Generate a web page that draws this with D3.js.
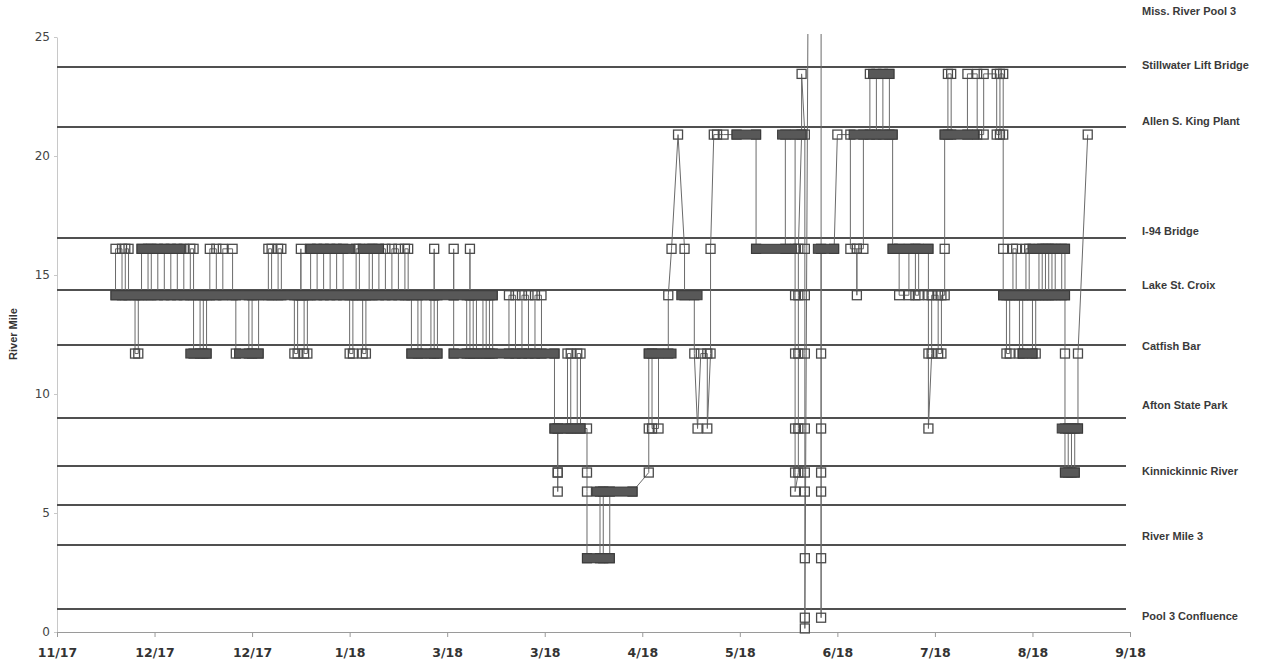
<!DOCTYPE html>
<html><head><meta charset="utf-8">
<script src="https://cdn.jsdelivr.net/npm/d3@7"></script>
<style>body{margin:0;background:#fff}svg{display:block}</style>
</head><body><svg id="c" width="1276" height="662"></svg>
<script>
// ---------- DATA ----------
const axisStart = "2017-11-01";
const axisEnd = "2018-09-27";
const tickDates = ["2017-11-01","2017-12-01","2017-12-31","2018-01-30","2018-03-01","2018-03-31",
  "2018-04-30","2018-05-30","2018-06-29","2018-07-29","2018-08-28","2018-09-27"];
const yTicks = [0,5,10,15,20,25];

// reference lines (river mile of each landmark)
const landmarkLineMiles = [23.74, 21.22, 16.55, 14.37, 12.06, 8.99, 6.97, 5.34, 3.66, 0.97];
// landmark labels and the river mile they are written at
const landmarkNames = ["Miss. River Pool 3","Stillwater Lift Bridge","Allen S. King Plant","I-94 Bridge",
  "Lake St. Croix","Catfish Bar","Afton State Park","Kinnickinnic River","River Mile 3","Pool 3 Confluence"];
const landmarkLabelMiles = [26.05, 23.78, 21.43, 16.81, 14.54, 11.97, 9.50, 6.72, 3.99, 0.63];

// detections: [date, river mile]  (27 = Miss. River Pool 3, above the plotted range)
const detections = [
["2017-11-19",14.15],["2017-11-19",16.1],["2017-11-21",16.1],["2017-11-21",14.15],["2017-11-22",14.15],["2017-11-22",16.1],
["2017-11-23",16.1],["2017-11-23",14.15],["2017-11-25",14.15],["2017-11-25",11.7],["2017-11-26",11.7],["2017-11-26",14.15],
["2017-11-27",14.15],["2017-11-27",16.1],["2017-11-29",16.1],["2017-11-29",14.15],["2017-11-30",14.15],["2017-11-30",16.1],
["2017-12-02",16.1],["2017-12-02",14.15],["2017-12-04",14.15],["2017-12-04",16.1],["2017-12-06",16.1],["2017-12-06",14.15],
["2017-12-08",14.15],["2017-12-08",16.1],["2017-12-10",16.1],["2017-12-10",14.15],["2017-12-12",14.15],["2017-12-12",16.1],
["2017-12-13",16.1],["2017-12-13",14.15],["2017-12-13",11.7],["2017-12-15",11.7],["2017-12-15",14.15],["2017-12-16",14.15],
["2017-12-16",11.7],["2017-12-17",11.7],["2017-12-17",14.15],["2017-12-18",14.15],["2017-12-18",16.1],["2017-12-20",16.1],
["2017-12-20",14.15],["2017-12-22",14.15],["2017-12-22",16.1],["2017-12-25",16.1],["2017-12-25",14.15],["2017-12-26",14.15],
["2017-12-26",11.7],["2017-12-30",11.7],["2017-12-30",14.15],["2017-12-31",14.15],["2017-12-31",11.7],["2018-01-02",11.7],
["2018-01-02",14.15],["2018-01-05",14.15],["2018-01-05",16.1],["2018-01-06",16.1],["2018-01-06",14.15],["2018-01-08",14.15],
["2018-01-08",16.1],["2018-01-09",16.1],["2018-01-09",14.15],["2018-01-13",14.15],["2018-01-13",11.7],["2018-01-14",11.7],
["2018-01-14",14.15],["2018-01-15",14.15],["2018-01-15",16.1],["2018-01-15",14.15],["2018-01-16",14.15],["2018-01-16",11.7],
["2018-01-17",11.7],["2018-01-17",14.15],["2018-01-18",14.15],["2018-01-18",16.1],["2018-01-20",16.1],["2018-01-20",14.15],
["2018-01-22",14.15],["2018-01-22",16.1],["2018-01-24",16.1],["2018-01-24",14.15],["2018-01-26",14.15],["2018-01-26",16.1],
["2018-01-28",16.1],["2018-01-28",14.15],["2018-01-30",14.15],["2018-01-30",11.7],["2018-01-31",11.7],["2018-01-31",14.15],
["2018-02-01",14.15],["2018-02-01",16.1],["2018-02-02",16.1],["2018-02-02",14.15],["2018-02-03",14.15],["2018-02-03",11.7],
["2018-02-04",11.7],["2018-02-04",14.15],["2018-02-05",14.15],["2018-02-05",16.1],["2018-02-06",16.1],["2018-02-06",14.15],
["2018-02-08",14.15],["2018-02-08",16.1],["2018-02-10",16.1],["2018-02-10",14.15],["2018-02-12",14.15],["2018-02-12",16.1],
["2018-02-14",16.1],["2018-02-14",14.15],["2018-02-16",14.15],["2018-02-16",16.1],["2018-02-17",16.1],["2018-02-17",14.15],
["2018-02-18",14.15],["2018-02-18",11.7],["2018-02-20",11.7],["2018-02-20",14.15],["2018-02-21",14.15],["2018-02-21",11.7],
["2018-02-24",11.7],["2018-02-24",14.15],["2018-02-25",14.15],["2018-02-25",16.1],["2018-02-25",14.15],["2018-02-25",11.7],
["2018-02-26",11.7],["2018-02-26",14.15],["2018-03-03",14.15],["2018-03-03",16.1],["2018-03-03",14.15],["2018-03-03",11.7],
["2018-03-07",11.7],["2018-03-07",14.15],["2018-03-08",14.15],["2018-03-08",16.1],["2018-03-08",14.15],["2018-03-08",11.7],
["2018-03-09",11.7],["2018-03-09",14.15],["2018-03-10",14.15],["2018-03-10",11.7],["2018-03-12",11.7],["2018-03-12",14.15],
["2018-03-13",14.15],["2018-03-13",11.7],["2018-03-14",11.7],["2018-03-14",14.15],["2018-03-15",14.15],["2018-03-15",11.7],
["2018-03-20",11.7],["2018-03-20",14.15],["2018-03-22",14.15],["2018-03-22",11.7],["2018-03-24",11.7],["2018-03-24",14.15],
["2018-03-26",14.15],["2018-03-26",11.7],["2018-03-28",11.7],["2018-03-28",14.15],["2018-03-30",14.15],["2018-03-30",11.7],
["2018-04-03",11.7],["2018-04-03",8.55],["2018-04-04",8.55],["2018-04-04",6.7],["2018-04-04",5.9],["2018-04-04",6.7],
["2018-04-04",8.55],["2018-04-07",8.55],["2018-04-07",11.7],["2018-04-08",11.7],["2018-04-08",8.55],["2018-04-10",8.55],
["2018-04-10",11.7],["2018-04-11",11.7],["2018-04-11",8.55],["2018-04-13",8.55],["2018-04-13",6.7],["2018-04-13",5.9],
["2018-04-13",3.1],["2018-04-17",3.1],["2018-04-17",5.9],["2018-04-18",5.9],["2018-04-18",3.1],["2018-04-20",3.1],
["2018-04-20",5.9],["2018-04-27",5.9],["2018-05-02",6.7],["2018-05-02",8.55],["2018-05-02",11.7],["2018-05-03",11.7],
["2018-05-03",8.55],["2018-05-05",8.55],["2018-05-05",11.7],["2018-05-08",11.7],["2018-05-08",14.15],["2018-05-09",16.1],
["2018-05-11",20.9],["2018-05-13",16.1],["2018-05-13",14.15],["2018-05-16",14.15],["2018-05-16",11.7],["2018-05-17",8.55],
["2018-05-18",11.7],["2018-05-20",11.7],["2018-05-20",8.55],["2018-05-21",11.7],["2018-05-21",16.1],["2018-05-22",20.9],
["2018-05-23",20.9],["2018-05-25",20.9],["2018-05-29",20.9],["2018-06-04",20.9],["2018-06-04",16.1],["2018-06-13",16.1],
["2018-06-13",20.9],["2018-06-16",20.9],["2018-06-16",16.1],["2018-06-16",14.15],["2018-06-16",11.7],["2018-06-16",8.55],
["2018-06-16",6.7],["2018-06-16",5.9],["2018-06-17",6.7],["2018-06-17",8.55],["2018-06-17",11.7],["2018-06-17",14.15],
["2018-06-17",16.1],["2018-06-18",20.9],["2018-06-18",23.45],["2018-06-19",20.9],["2018-06-19",16.1],["2018-06-19",14.15],
["2018-06-19",11.7],["2018-06-19",8.55],["2018-06-19",6.7],["2018-06-19",5.9],["2018-06-19",3.1],["2018-06-19",0.6],
["2018-06-19",0.15],["2018-06-20",27],["2018-06-24",27],["2018-06-24",0.6],["2018-06-24",3.1],["2018-06-24",5.9],
["2018-06-24",6.7],["2018-06-24",8.55],["2018-06-24",11.7],["2018-06-24",16.1],["2018-06-28",16.1],["2018-06-29",20.9],
["2018-07-03",20.9],["2018-07-03",16.1],["2018-07-05",16.1],["2018-07-05",14.15],["2018-07-05",16.1],["2018-07-07",16.1],
["2018-07-07",20.9],["2018-07-09",20.9],["2018-07-09",23.45],["2018-07-11",23.45],["2018-07-11",20.9],["2018-07-13",20.9],
["2018-07-13",23.45],["2018-07-15",23.45],["2018-07-15",20.9],["2018-07-16",20.9],["2018-07-16",16.1],["2018-07-18",16.1],
["2018-07-18",14.15],["2018-07-21",14.15],["2018-07-21",16.1],["2018-07-23",16.1],["2018-07-23",14.15],["2018-07-24",14.15],
["2018-07-24",16.1],["2018-07-27",16.1],["2018-07-27",14.15],["2018-07-27",11.7],["2018-07-27",8.55],["2018-07-28",11.7],
["2018-07-28",14.15],["2018-07-30",14.15],["2018-07-30",11.7],["2018-07-31",11.7],["2018-07-31",14.15],["2018-08-01",14.15],
["2018-08-01",16.1],["2018-08-01",20.9],["2018-08-02",20.9],["2018-08-02",23.45],["2018-08-03",23.45],["2018-08-03",20.9],
["2018-08-08",20.9],["2018-08-08",23.45],["2018-08-11",23.45],["2018-08-11",20.9],["2018-08-13",20.9],["2018-08-13",23.45],
["2018-08-17",23.45],["2018-08-17",20.9],["2018-08-18",20.9],["2018-08-18",23.45],["2018-08-19",23.45],["2018-08-19",20.9],
["2018-08-19",16.1],["2018-08-19",14.15],["2018-08-20",14.15],["2018-08-20",11.7],["2018-08-21",11.7],["2018-08-21",14.15],
["2018-08-22",14.15],["2018-08-22",16.1],["2018-08-23",16.1],["2018-08-23",14.15],["2018-08-24",14.15],["2018-08-24",11.7],
["2018-08-25",11.7],["2018-08-25",14.15],["2018-08-26",14.15],["2018-08-26",16.1],["2018-08-27",16.1],["2018-08-27",14.15],
["2018-08-28",14.15],["2018-08-28",11.7],["2018-08-29",11.7],["2018-08-29",14.15],["2018-08-30",14.15],["2018-08-30",16.1],
["2018-08-31",16.1],["2018-08-31",14.15],["2018-09-01",14.15],["2018-09-01",16.1],["2018-09-02",16.1],["2018-09-02",14.15],
["2018-09-03",14.15],["2018-09-03",16.1],["2018-09-04",16.1],["2018-09-04",14.15],["2018-09-06",14.15],["2018-09-06",16.1],
["2018-09-07",16.1],["2018-09-07",14.15],["2018-09-07",11.7],["2018-09-07",8.55],["2018-09-07",6.7],["2018-09-08",6.7],
["2018-09-08",8.55],["2018-09-09",8.55],["2018-09-09",6.7],["2018-09-10",6.7],["2018-09-10",8.55],["2018-09-11",8.55],
["2018-09-11",11.7],["2018-09-14",20.9]
];

// continuous residence periods (dense detections): [first date, last date, river mile]
const residences = [
["2017-11-19","2018-03-15",14.15],["2017-11-27","2017-12-09",16.1],["2017-12-12","2017-12-17",11.7],
["2017-12-27","2018-01-02",11.7],["2018-01-18","2018-01-30",16.1],["2018-02-03","2018-02-08",16.1],
["2018-02-18","2018-02-26",11.7],["2018-03-03","2018-04-03",11.7],["2018-04-03","2018-04-11",8.55],
["2018-04-13","2018-04-20",3.1],["2018-04-16","2018-04-27",5.9],["2018-05-02","2018-05-09",11.7],
["2018-05-12","2018-05-17",14.15],["2018-05-29","2018-06-04",20.9],["2018-06-04","2018-06-15",16.1],
["2018-06-12","2018-06-18",20.9],["2018-06-23","2018-06-28",16.1],["2018-07-04","2018-07-16",20.9],
["2018-07-10","2018-07-15",23.45],["2018-07-16","2018-07-27",16.1],["2018-08-01","2018-08-10",20.9],
["2018-08-19","2018-09-07",14.15],["2018-08-28","2018-09-07",16.1],["2018-08-25","2018-08-28",11.7],
["2018-09-06","2018-09-11",8.55],["2018-09-07","2018-09-10",6.7]
];

// ---------- CHART ----------
const parseDate = d3.timeParse("%Y-%m-%d");
const svg = d3.select("#c");
const L = 57, R = 1130, T = 37, B = 632;
const x = d3.scaleTime().domain([parseDate(axisStart), parseDate(axisEnd)]).range([L, R]);
const y = d3.scaleLinear().domain([0, 25]).range([B, T]);

svg.append("defs").append("clipPath").attr("id","plot")
  .append("rect").attr("x", L).attr("y", T - 3).attr("width", R - L).attr("height", B - T + 10);

// y axis
const yAx = svg.append("g").attr("transform",`translate(${L},0)`)
  .call(d3.axisLeft(y).tickValues(yTicks).tickSize(3).tickSizeOuter(0).tickPadding(4));
yAx.select(".domain").attr("stroke","#c8c8c8");
yAx.selectAll(".tick line").attr("stroke","#c8c8c8");
yAx.selectAll("text").attr("font-family","DejaVu Sans").attr("font-size",12).attr("fill","#444");

// x axis
const xAx = svg.append("g").attr("transform",`translate(0,${B})`)
  .call(d3.axisBottom(x).tickValues(tickDates.map(parseDate)).tickFormat(d3.timeFormat("%-m/%y"))
    .tickSize(5).tickSizeOuter(0).tickPadding(11));
xAx.select(".domain").attr("stroke","#9a9a9a");
xAx.selectAll(".tick line").attr("stroke","#9a9a9a");
xAx.selectAll("text").attr("font-family","DejaVu Sans").attr("font-weight","bold")
  .attr("font-size",12.5).attr("fill","#333");

// landmark reference lines
svg.append("g").selectAll("line").data(landmarkLineMiles).join("line")
  .attr("x1", L).attr("x2", R - 4)
  .attr("y1", d => y(d)).attr("y2", d => y(d))
  .attr("stroke","#505050").attr("stroke-width",2);

// track line
const plot = svg.append("g").attr("clip-path","url(#plot)");
plot.append("path").datum(detections)
  .attr("d", d3.line().x(d => x(parseDate(d[0]))).y(d => y(d[1])))
  .attr("fill","none").attr("stroke","#6a6a6a").attr("stroke-width",1);

// detection markers (hollow squares)
const ms = 9;
plot.append("g").selectAll("rect").data(detections).join("rect")
  .attr("x", d => x(parseDate(d[0])) - ms/2).attr("y", d => y(d[1]) - ms/2)
  .attr("width", ms).attr("height", ms)
  .attr("fill","none").attr("stroke","#4a4a4a").attr("stroke-width",1.3);

// residence periods (dense, overlapping markers)
plot.append("g").selectAll("rect").data(residences).join("rect")
  .attr("x", d => x(parseDate(d[0])) - ms/2)
  .attr("width", d => x(parseDate(d[1])) - x(parseDate(d[0])) + ms)
  .attr("y", d => y(d[2]) - ms/2).attr("height", ms)
  .attr("fill","#585858").attr("stroke","#3a3a3a").attr("stroke-width",1);

// landmark labels
svg.append("g").selectAll("text").data(landmarkNames).join("text")
  .attr("x", 1142).attr("y", (d,i) => y(landmarkLabelMiles[i]))
  .attr("dominant-baseline","middle")
  .attr("font-family","Liberation Sans").attr("font-weight","bold").attr("font-size",11)
  .attr("fill","#3a3a3a").text(d => d);

// y title
svg.append("text").attr("transform","translate(17,334) rotate(-90)")
  .attr("text-anchor","middle").attr("font-family","Liberation Sans").attr("font-weight","bold")
  .attr("font-size",11).attr("fill","#333").text("River Mile");
</script></body></html>
